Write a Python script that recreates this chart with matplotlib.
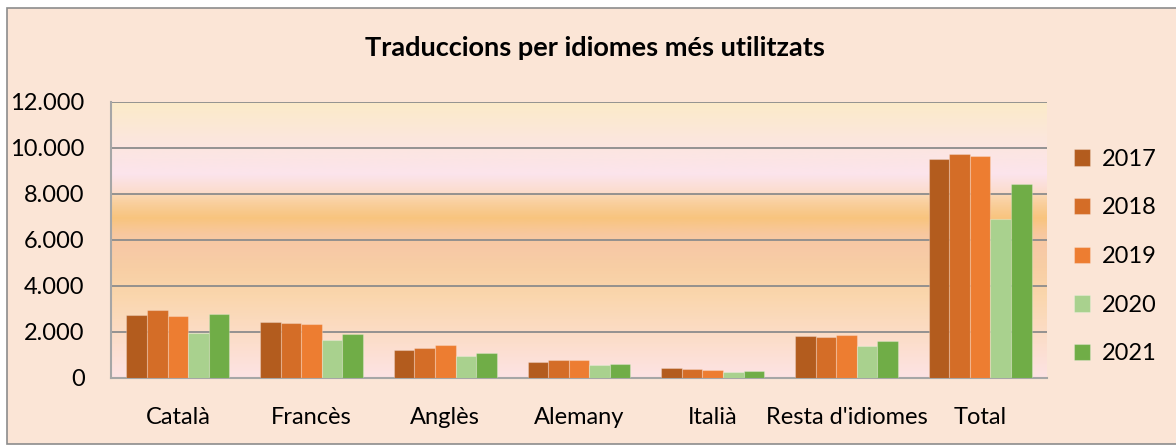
import matplotlib.pyplot as plt
import numpy as np
from matplotlib.colors import LinearSegmentedColormap
from matplotlib.patches import Rectangle
from matplotlib.ticker import FuncFormatter

plt.rcParams['font.family'] = ['Lato', 'DejaVu Sans']

# Dades
idiomes = ['Català', 'Francès', 'Anglès', 'Alemany', 'Italià', "Resta d'idiomes", 'Total']
anys = ['2017', '2018', '2019', '2020', '2021']
v2017 = [2730, 2450, 1220, 710, 435, 1825, 9510]
v2018 = [2960, 2380, 1300, 770, 390, 1785, 9725]
v2019 = [2710, 2350, 1450, 785, 335, 1855, 9640]
v2020 = [1970, 1650, 955, 550, 260, 1405, 6910]
v2021 = [2800, 1915, 1090, 610, 290, 1595, 8450]
series = [v2017, v2018, v2019, v2020, v2021]
colors = ['#B35C1E', '#D46D27', '#ED7D31', '#A9D18E', '#70AD47']

fig = plt.figure(figsize=(11.76, 4.46), dpi=100, facecolor='white')
# fons del gràfic amb vora
fig.patches.append(Rectangle((7 / 1176, 2 / 446), 1.1, 436 / 446, transform=fig.transFigure,
                             facecolor='#FBE5D6', edgecolor='#8C8C8C', linewidth=1.2, zorder=-10))

ax = fig.add_axes([111 / 1176, 68 / 446, 936 / 1176, 276 / 446])
ax.set_zorder(1)
ax.set_facecolor('none')

# degradat de l'àrea de dibuix (de baix a dalt)
stops = [(0.0, '#FDE3E4'), (0.12, '#FCDECD'), (0.30, '#FAD6AC'), (0.40, '#F8CEA4'),
         (0.47, '#F7C9A6'), (0.52, '#F8C8A0'), (0.58, '#F8C47E'), (0.63, '#F9CE9A'),
         (0.665, '#FBD8B4'), (0.672, '#FBDCCB'), (0.74, '#FCE4EC'), (0.85, '#FCE6DF'),
         (1.0, '#FBEBC9')]
cmap = LinearSegmentedColormap.from_list('fons', stops)
grad = np.linspace(0, 1, 400).reshape(-1, 1)
ax.imshow(grad, cmap=cmap, origin='lower', aspect='auto', extent=[0, 1, 0, 1],
          transform=ax.transAxes, zorder=0)

x = np.arange(len(idiomes))
w = 0.154
for i, (vals, c, lab) in enumerate(zip(series, colors, anys)):
    ax.bar(x + (i - 2) * w, vals, w, color=c, label=lab, zorder=3,
           edgecolor=(1, 1, 1, 0.25), linewidth=0.8)

ax.set_xlim(-0.5, len(idiomes) - 0.5)
ax.set_ylim(0, 12000)
ax.set_yticks(np.arange(0, 12001, 2000))
ax.yaxis.set_major_formatter(FuncFormatter(lambda v, p: f'{int(v):,}'.replace(',', '.')))
ax.grid(axis='y', color='#8C8C8C', linewidth=1.3, zorder=1)
ax.set_xticks(x)
ax.set_xticklabels(idiomes)
ax.tick_params(axis='both', length=0, labelsize=17, colors='black')
ax.tick_params(axis='x', pad=21)
ax.tick_params(axis='y', pad=19)
for s in ['top', 'right']:
    ax.spines[s].set_visible(False)
for s in ['left', 'bottom']:
    ax.spines[s].set_color('#A6A6A6')
    ax.spines[s].set_linewidth(1.5)

fig.text(595 / 1176, 1 - 48 / 446, 'Traduccions per idiomes més utilitzats', ha='center',
         va='center', fontsize=19.5, fontweight='bold')

ax.legend(loc='center left', bbox_to_anchor=(1.006, 0.44), frameon=False, fontsize=17,
          handlelength=0.7, handleheight=0.7, handletextpad=0.5, labelspacing=1.17)

fig.savefig('out.png', dpi=100, facecolor=fig.get_facecolor())
